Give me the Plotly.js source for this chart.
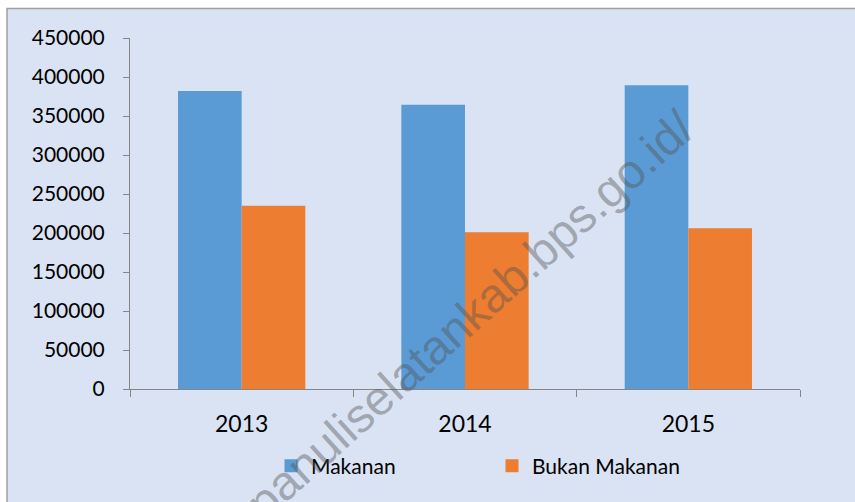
<!DOCTYPE html>
<html>
<head>
<meta charset="utf-8">
<script src="https://cdn.plot.ly/plotly-3.0.1.min.js"></script>
<style>html,body{margin:0;padding:0;background:#fff;}#chart{width:855px;height:502px;}</style>
</head>
<body>
<div id="chart"></div>
<script>
var years = ['2013', '2014', '2015'];
var seriesNames = ['Makanan', 'Bukan Makanan'];
var makanan = [382000, 364500, 389500];
var bukanMakanan = [235000, 201000, 206000];
var yTicks = [0, 50000, 100000, 150000, 200000, 250000, 300000, 350000, 400000, 450000];
var watermark = 'tapanuliselatankab.bps.go.id/';

var font = 'Lato, "Open Sans", sans-serif';
var colors = ['#5b9bd5', '#ed7d31'];
var traces = [
  {type: 'bar', name: seriesNames[0], x: years, y: makanan, marker: {color: colors[0], line: {width: 0}}, showlegend: false},
  {type: 'bar', name: seriesNames[1], x: years, y: bukanMakanan, marker: {color: colors[1], line: {width: 0}}, showlegend: false},
  {type: 'scatter', mode: 'markers', name: seriesNames[0], x: [null], y: [null], marker: {symbol: 'square', size: 13, color: colors[0]}},
  {type: 'scatter', mode: 'markers', name: seriesNames[1], x: [null], y: [null], marker: {symbol: 'square', size: 13, color: colors[1]}}
];

var L = 130, R = 800, T = 38, B = 389;
var W = R - L, H = B - T;
function px(x) { return (x - L) / W; }
function py(y) { return (B - y) / H; }

var layout = {
  width: 855, height: 502,
  margin: {l: L, r: 855 - R, t: T, b: 502 - B, pad: 0},
  paper_bgcolor: '#ffffff',
  plot_bgcolor: 'rgba(0,0,0,0)',
  barmode: 'group', bargap: 0.43, bargroupgap: 0,
  showlegend: true,
  legend: {orientation: 'h', x: px(271), xanchor: 'left', y: py(466), yanchor: 'middle',
           font: {family: font, size: 21, color: '#000'}, bgcolor: 'rgba(0,0,0,0)',
           entrywidth: 176, entrywidthmode: 'pixels', itemwidth: 30, tracegroupgap: 0},
  xaxis: {type: 'category', showgrid: false, zeroline: false, showline: true, linecolor: '#868686', linewidth: 1,
          ticks: 'outside', tickson: 'boundaries', ticklen: 7, tickcolor: '#868686', tickwidth: 1,
          tickfont: {family: font, size: 23, color: '#000'}, ticklabelstandoff: 14, fixedrange: true},
  yaxis: {range: [0, 450000], tickvals: yTicks, ticktext: yTicks.map(String), showgrid: false, zeroline: false,
          showline: true, linecolor: '#868686', linewidth: 1, ticks: 'outside', ticklen: 6, tickcolor: '#868686',
          tickfont: {family: font, size: 21, color: '#000'}, ticklabelstandoff: 14, fixedrange: true},
  shapes: [
    {type: 'rect', xref: 'paper', yref: 'paper', x0: px(7), x1: px(870), y0: py(520), y1: py(8.5),
     fillcolor: '#dae3f3', line: {color: '#a0a0a0', width: 1.5}, layer: 'below'}
  ],
  annotations: [
    {text: watermark, xref: 'paper', yref: 'paper', x: px(455), y: py(328), xanchor: 'center', yanchor: 'middle',
     showarrow: false, textangle: -42, font: {family: '"Liberation Sans", Arial, sans-serif', size: 48, color: 'rgba(80,80,80,0.42)'}}
  ]
};

Plotly.newPlot('chart', traces, layout, {displayModeBar: false, staticPlot: true});
</script>
</body>
</html>
